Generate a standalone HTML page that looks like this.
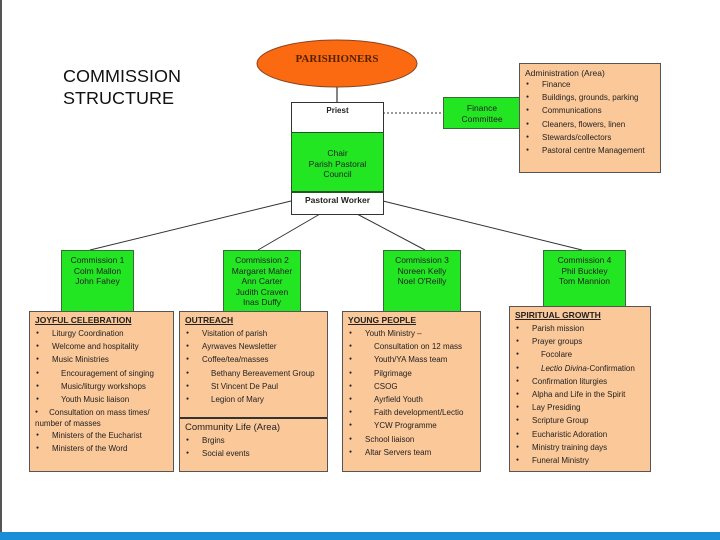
<!DOCTYPE html>
<html><head><meta charset="utf-8"><style>
body{margin:0;width:720px;height:540px;position:relative;background:#fff;font-family:"Liberation Sans",sans-serif;overflow:hidden}
.a{position:absolute;box-sizing:border-box}
.g{background:#22e622;border:1px solid #3a6a3a;text-align:center;font-size:8.5px;line-height:10.5px;color:#222;padding-top:4px}
.o{background:#fbc89a;border:1px solid #555;font-size:8px;color:#222;padding:3px 5px}
.o .h{font-weight:bold;text-decoration:underline;font-size:8.5px;margin-bottom:2px}
.o div.i{height:13.2px;line-height:13.2px;white-space:nowrap}
.o div.i:before{content:"●";font-size:5px;vertical-align:2px;display:inline-block;width:16px;padding-left:1px}
.o div.s{padding-left:9px}
.o div.s:before{margin-left:-9px;width:25px}
</style></head><body>
<div class="a" style="left:0;top:0;width:2px;height:532px;background:#555"></div>
<div class="a" style="left:0;top:532px;width:720px;height:8px;background:#1a8cd8"></div>
<svg class="a" style="left:0;top:0" width="720" height="540">
<line x1="337" y1="87" x2="337" y2="102" stroke="#333" stroke-width="1.2"/>
<line x1="383" y1="113" x2="443" y2="113" stroke="#333" stroke-dasharray="2,2"/>
<line x1="291" y1="201" x2="90" y2="250" stroke="#333"/>
<line x1="320" y1="214" x2="258" y2="250" stroke="#333"/>
<line x1="357" y1="214" x2="425" y2="250" stroke="#333"/>
<line x1="383" y1="201" x2="582" y2="250" stroke="#333"/>
<ellipse cx="337" cy="63.5" rx="80" ry="23.5" fill="#fb6a10" stroke="#884422"/>
<text x="337" y="62" text-anchor="middle" font-family="Liberation Serif,serif" font-weight="bold" font-size="11" fill="#552200">PARISHIONERS</text>
</svg>
<div class="a" style="left:63px;top:66px;font-size:18px;line-height:23px;color:#111;transform:scaleY(0.95);transform-origin:0 0">COMMISSION<br>STRUCTURE</div>
<div class="a" style="left:291px;top:102px;width:93px;height:113px;border:1px solid #333;background:#fff"></div>
<div class="a" style="left:291px;top:102px;width:93px;height:31px;text-align:center;font-size:8px;font-weight:bold;padding-top:4px;color:#222">Priest</div>
<div class="a g" style="left:291px;top:132px;width:93px;height:61px;padding-top:15px;border-color:#225522;border-width:1px 1px 2px">Chair<br>Parish Pastoral<br>Council</div>
<div class="a" style="left:291px;top:195px;width:93px;text-align:center;font-size:8.5px;font-weight:bold;color:#222">Pastoral Worker</div>
<div class="a g" style="left:443px;top:97px;width:78px;height:32px;padding-top:5px">Finance<br>Committee</div>
<div class="a o" style="left:519px;top:63px;width:142px;height:110px;padding:4px 5px">
<div style="font-size:8.5px;margin-bottom:0">Administration (Area)</div>
<div class="i">Finance</div><div class="i">Buildings, grounds, parking</div><div class="i">Communications</div><div class="i">Cleaners, flowers, linen</div><div class="i">Stewards/collectors</div><div class="i">Pastoral centre Management</div></div>
<div class="a g" style="left:61px;top:250px;width:73px;height:62px">Commission 1<br>Colm Mallon<br>John Fahey</div>
<div class="a g" style="left:223px;top:250px;width:78px;height:62px">Commission 2<br>Margaret Maher<br>Ann Carter<br>Judith Craven<br>Inas Duffy</div>
<div class="a g" style="left:383px;top:250px;width:78px;height:62px">Commission 3<br>Noreen Kelly<br>Noel O'Reilly</div>
<div class="a g" style="left:543px;top:250px;width:83px;height:57px">Commission 4<br>Phil Buckley<br>Tom Mannion</div>
<div class="a o" style="left:29px;top:311px;width:145px;height:161px">
<div class="h">JOYFUL CELEBRATION</div>
<div class="i">Liturgy Coordination</div><div class="i">Welcome and hospitality</div><div class="i">Music Ministries</div><div class="i s">Encouragement of singing</div><div class="i s">Music/liturgy workshops</div><div class="i s">Youth Music liaison</div>
<div style="line-height:11px;margin-top:1px"><span style="font-size:5px;vertical-align:2px">●</span>&nbsp;&nbsp;&nbsp;&nbsp;&nbsp;Consultation on mass times/<br>number of masses</div>
<div class="i">Ministers of the Eucharist</div><div class="i">Ministers of the Word</div></div>
<div class="a o" style="left:179px;top:311px;width:149px;height:161px">
<div class="h">OUTREACH</div>
<div class="i">Visitation of parish</div><div class="i">Ayrwaves Newsletter</div><div class="i">Coffee/tea/masses</div><div class="i s">Bethany Bereavement Group</div><div class="i s">St Vincent De Paul</div><div class="i s">Legion of Mary</div>
<div style="position:absolute;left:0;right:0;top:105px;border-top:2px solid #333"></div>
<div style="position:absolute;top:110px;left:5px;font-size:9.5px">Community Life (Area)</div>
<div style="position:absolute;top:122px;left:5px"><div class="i">Brgins</div><div class="i">Social events</div></div></div>
<div class="a o" style="left:342px;top:311px;width:139px;height:161px">
<div class="h">YOUNG PEOPLE</div>
<div class="i">Youth Ministry –</div><div class="i s">Consultation on 12 mass</div><div class="i s">Youth/YA Mass team</div><div class="i s">Pilgrimage</div><div class="i s">CSOG</div><div class="i s">Ayrfield Youth</div><div class="i s">Faith development/Lectio</div><div class="i s">YCW Programme</div><div class="i">School liaison</div><div class="i">Altar Servers team</div></div>
<div class="a o" style="left:509px;top:306px;width:142px;height:166px">
<div class="h">SPIRITUAL GROWTH</div>
<div class="i">Parish mission</div><div class="i">Prayer groups</div><div class="i s">Focolare</div><div class="i s"><i>Lectio Divina</i>-Confirmation</div><div class="i">Confirmation liturgies</div><div class="i">Alpha and Life in the Spirit</div><div class="i">Lay Presiding</div><div class="i">Scripture Group</div><div class="i">Eucharistic Adoration</div><div class="i">Ministry training days</div><div class="i">Funeral Ministry</div></div>
</body></html>
